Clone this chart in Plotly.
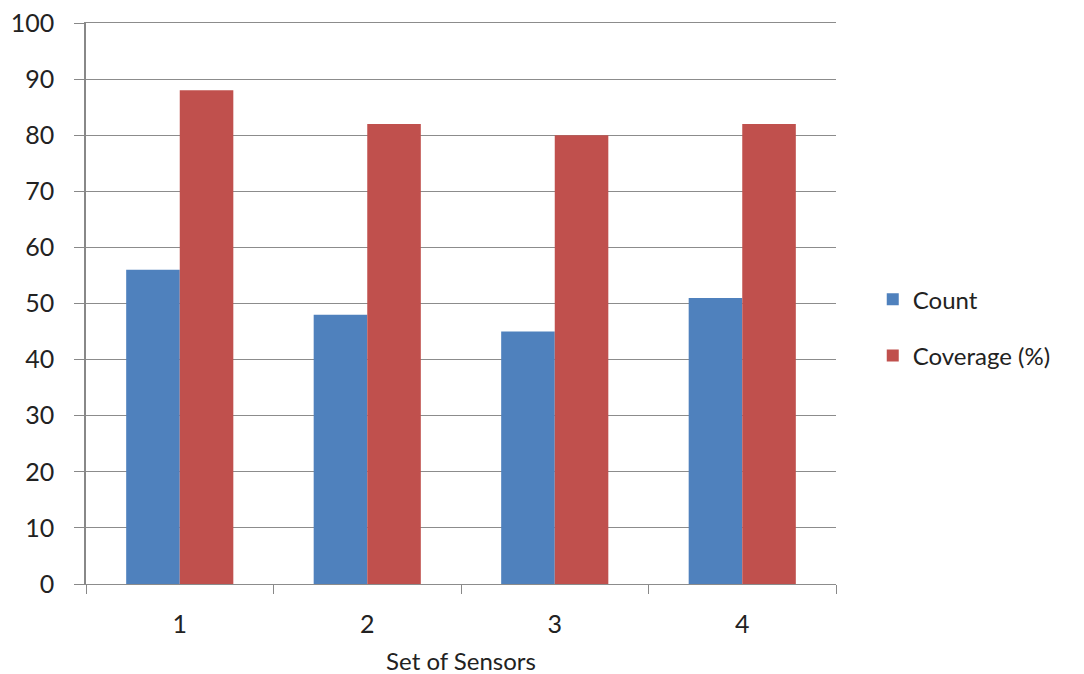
import plotly.graph_objects as go

categories = ["1", "2", "3", "4"]
count_values = [56, 48, 45, 51]
coverage_values = [88, 82, 80, 82]
y_ticks = list(range(0, 101, 10))

fig = go.Figure()
fig.add_trace(go.Bar(x=categories, y=count_values, name="Count",
                     marker=dict(color="#4F81BD", line=dict(width=0)), legendgroup="a"))
fig.add_trace(go.Bar(x=categories, y=coverage_values, name="Coverage (%)",
                     marker=dict(color="#C0504D", line=dict(width=0)), legendgroup="b"))

fig.update_layout(
    width=1084, height=674,
    margin=dict(l=78, r=256, t=15, b=98, autoexpand=False),
    paper_bgcolor="white", plot_bgcolor="white",
    barmode="group", bargap=0.4286, bargroupgap=0,
    font=dict(family="Lato, Open Sans, sans-serif", color="#222222"),
    legend=dict(x=1.049, y=0.457, xanchor="left", yanchor="middle",
                font=dict(size=24, color="#222222"), traceorder="grouped",
                tracegroupgap=22, itemsizing="constant"),
    xaxis=dict(type="category", showline=True, mirror=True, linecolor="#8c8c8c", linewidth=1.4,
               ticks="outside", tickson="boundaries", ticklen=9, tickcolor="#888888",
               tickfont=dict(size=25), showgrid=False, ticklabelstandoff=18,
               automargin=False, ticklabeloverflow="allow",
               title=dict(text="Set of Sensors", font=dict(size=24), standoff=15)),
    yaxis=dict(range=[0, 100], tickvals=y_ticks, showline=True, linecolor="#888888",
               linewidth=1.5, showgrid=True, gridcolor="#8c8c8c", gridwidth=1.3,
               tickfont=dict(size=25), ticks="outside", ticklen=10, tickcolor="#888888",
               ticklabelstandoff=15, zeroline=False, automargin=False,
               ticklabeloverflow="allow"),
)

fig.write_html("out.html")
